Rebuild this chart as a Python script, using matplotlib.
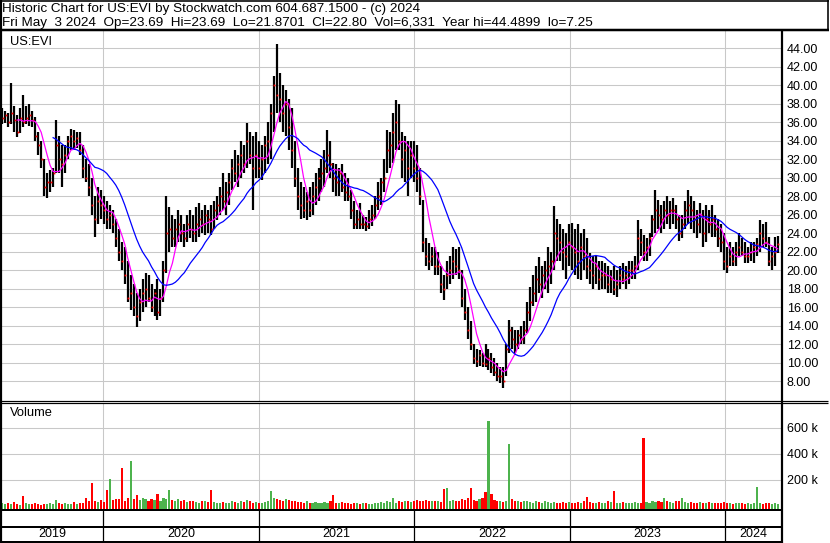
import numpy as np
import pandas as pd
import matplotlib
matplotlib.use("Agg")
import matplotlib.pyplot as plt
import matplotlib.dates as mdates
from matplotlib.lines import Line2D
from matplotlib.ticker import FixedLocator, FuncFormatter

plt.rcParams['font.family'] = ['Liberation Sans', 'DejaVu Sans']

# ---------------- data (weekly bars, US:EVI) ----------------
week_start = "2019-05-10"
week_end = "2024-05-03"

high = [37.5, 37.2, 37.0, 40.3, 37.8, 36.8, 37.5, 39.0, 37.8, 38.0,
        37.2, 36.6, 35.0, 34.0, 32.0, 30.5, 30.8, 31.0, 36.3, 34.5,
        33.5, 33.5, 34.5, 35.3, 35.2, 35.0, 35.0, 33.5, 32.0, 31.5,
        30.0, 28.0, 29.0, 28.7, 28.0, 27.5, 27.0, 26.5, 25.5, 24.5,
        23.0, 22.5, 21.0, 19.5, 18.5, 17.5, 18.0, 19.0, 19.7, 19.5,
        18.5, 18.0, 19.0, 18.0, 21.0, 28.0, 26.8, 26.0, 25.5, 26.5,
        26.0, 25.0, 26.0, 26.5, 26.0, 26.8, 27.3, 26.5, 27.0, 26.5,
        27.0, 27.5, 28.0, 29.0, 30.5, 29.5, 30.5, 32.0, 33.0, 32.5,
        34.0, 33.5, 35.9, 35.0, 34.5, 35.0, 34.0, 33.5, 34.5, 36.0,
        38.0, 41.0, 44.5, 41.3, 40.0, 39.5, 38.5, 37.5, 34.0, 31.0,
        29.5, 29.0, 28.5, 29.0, 29.5, 30.5, 31.0, 32.0, 33.0, 35.2,
        34.0, 31.6, 31.5, 31.0, 31.5, 30.5, 30.0, 28.7, 27.5, 26.5,
        27.3, 26.0, 25.8, 26.5, 27.0, 28.0, 29.5, 30.0, 32.0, 35.2,
        35.0, 37.0, 38.4, 38.0, 35.0, 34.5, 34.0, 34.0, 34.0, 33.5,
        31.0, 27.6, 23.5, 22.9, 22.5, 22.5, 22.0, 20.4, 19.5, 21.0,
        21.5, 22.5, 22.3, 22.5, 20.0, 18.0, 16.0, 14.5, 12.0, 11.5,
        11.4, 11.0, 12.0, 11.5, 11.0, 10.5, 10.0, 9.5, 9.5, 12.0,
        14.6, 13.9, 13.5, 13.5, 14.0, 14.5, 16.5, 18.2, 19.5, 20.4,
        21.4, 20.5, 21.0, 22.5, 22.0, 26.9, 25.5, 25.0, 24.5, 24.0,
        25.0, 25.1, 24.5, 25.0, 24.0, 24.5, 23.5, 21.9, 21.5, 21.5,
        21.0, 21.0, 20.8, 20.5, 20.0, 20.5, 20.0, 20.5, 20.8, 20.5,
        21.0, 21.0, 21.5, 25.4, 24.5, 23.8, 23.5, 24.0, 26.0, 28.7,
        27.6, 27.0, 27.5, 28.0, 27.5, 27.8, 27.0, 26.0, 26.0, 27.5,
        28.7, 28.0, 27.5, 26.5, 27.3, 26.5, 27.0, 26.5, 27.0, 26.0,
        25.5, 25.0, 24.0, 22.5, 23.0, 22.5, 23.0, 24.0, 23.5, 23.0,
        22.5, 23.0, 23.0, 23.5, 25.4, 25.0, 25.2, 23.6, 22.5, 23.6,
        23.69]

low = [35.8, 35.9, 35.5, 35.8, 35.0, 34.4, 34.8, 35.5, 35.8, 35.6,
       35.5, 34.0, 32.5, 31.0, 28.0, 27.8, 28.5, 29.0, 30.5, 30.5,
       29.0, 30.5, 32.0, 33.0, 33.0, 33.2, 32.5, 30.0, 29.5, 28.0,
       26.0, 23.6, 25.0, 25.5, 25.0, 24.4, 24.5, 24.0, 22.5, 21.0,
       20.0, 18.5, 16.5, 15.7, 15.0, 13.9, 14.5, 15.5, 16.0, 16.5,
       15.5, 15.0, 14.6, 15.0, 16.5, 19.7, 22.0, 22.5, 22.5, 23.0,
       23.0, 22.5, 23.0, 23.5, 23.0, 23.0, 23.6, 24.0, 23.8, 24.0,
       23.8, 24.5, 25.4, 26.0, 26.5, 26.0, 27.0, 28.7, 29.5, 29.0,
       30.0, 30.5, 31.0, 31.5, 26.5, 30.0, 30.0, 29.8, 30.5, 31.5,
       32.0, 35.0, 37.0, 36.0, 35.0, 34.5, 33.0, 31.0, 29.0, 26.5,
       25.5, 25.6, 25.4, 25.8, 26.0, 27.0, 27.5, 28.5, 29.0, 30.5,
       30.0, 28.5, 28.0, 28.0, 28.5, 27.5, 27.5, 25.5, 24.5, 24.4,
       24.5, 24.4, 24.2, 24.5, 24.8, 25.5, 26.5, 27.0, 28.5, 30.5,
       31.0, 31.6, 33.0, 33.0, 30.0, 29.5, 28.0, 30.0, 29.5, 28.5,
       27.0, 22.0, 20.5, 20.0, 20.5, 19.5, 19.5, 17.5, 16.8, 18.0,
       18.5, 19.0, 19.5, 19.0, 16.0, 14.6, 12.5, 11.4, 9.8, 9.5,
       9.6, 9.5, 9.5, 9.2, 8.9, 8.5, 8.0, 7.8, 7.25, 8.5,
       11.0, 11.5, 11.0, 11.5, 12.0, 12.0, 13.2, 14.5, 16.1, 16.5,
       17.5, 17.0, 18.0, 17.5, 18.5, 20.0, 21.0, 21.0, 20.0, 19.0,
       20.5, 20.0, 19.5, 19.0, 18.9, 20.0, 19.0, 18.5, 18.0, 18.5,
       17.9, 18.0, 18.0, 17.5, 17.5, 17.3, 17.1, 18.0, 18.5, 18.0,
       18.5, 19.0, 19.0, 20.0, 21.5, 21.0, 21.0, 21.5, 23.6, 24.0,
       24.5, 24.0, 24.5, 25.0, 24.5, 25.0, 24.5, 23.2, 23.5, 24.5,
       25.0, 24.5, 24.0, 23.5, 24.0, 22.5, 23.0, 24.0, 23.6, 23.6,
       22.5, 22.0, 20.0, 19.7, 20.5, 20.5, 20.5, 21.5, 21.5, 20.8,
       20.8, 21.0, 20.8, 21.5, 22.0, 22.5, 22.5, 20.5, 20.0, 20.5,
       21.87]

close = [36.5, 36.8, 36.0, 37.0, 36.2, 35.0, 36.5, 36.0, 36.5, 36.8,
         36.2, 34.5, 33.5, 32.0, 29.0, 29.5, 29.5, 30.5, 33.5, 32.0,
         31.5, 32.5, 34.0, 34.5, 34.0, 34.3, 33.0, 31.0, 30.0, 29.0,
         27.0, 25.5, 27.5, 27.0, 26.5, 25.5, 26.0, 25.0, 23.5, 22.0,
         21.0, 19.5, 17.0, 17.5, 16.0, 15.0, 16.5, 17.5, 18.0, 17.0,
         16.0, 17.5, 15.5, 17.0, 20.0, 24.0, 24.5, 23.5, 24.5, 25.0,
         24.0, 23.5, 25.0, 24.5, 24.0, 25.0, 25.5, 25.0, 26.0, 25.5,
         24.5, 26.5, 27.0, 28.0, 27.5, 28.5, 29.5, 31.0, 30.5, 31.5,
         32.5, 31.5, 34.0, 32.5, 31.0, 32.5, 31.0, 32.0, 33.5, 34.0,
         37.0, 40.0, 39.0, 38.5, 37.0, 38.0, 35.5, 33.0, 30.0, 28.0,
         27.0, 26.5, 27.5, 26.5, 28.0, 29.0, 30.0, 30.5, 31.0, 32.5,
         31.5, 30.0, 29.5, 30.5, 29.0, 28.5, 28.0, 26.5, 25.0, 25.5,
         25.0, 25.0, 24.8, 25.5, 26.0, 27.0, 28.0, 29.5, 30.0, 33.0,
         33.5, 35.0, 36.0, 34.0, 32.0, 33.0, 31.0, 32.5, 31.0, 30.0,
         28.0, 23.0, 21.5, 21.0, 21.5, 20.5, 20.5, 18.5, 18.0, 19.5,
         20.0, 21.0, 20.5, 20.0, 17.0, 15.5, 13.5, 12.0, 10.5, 10.2,
         10.8, 10.0, 9.8, 10.5, 9.5, 9.0, 8.5, 8.5, 8.0, 11.5,
         13.5, 12.5, 12.0, 13.0, 12.5, 13.5, 15.5, 16.5, 17.5, 19.0,
         18.5, 19.5, 20.0, 20.5, 21.0, 24.0, 23.5, 23.0, 22.0, 21.5,
         23.0, 22.5, 22.0, 21.0, 22.5, 21.5, 20.5, 20.0, 19.5, 20.5,
         19.0, 19.5, 19.5, 18.5, 19.0, 18.0, 18.5, 19.5, 19.0, 19.5,
         20.0, 20.0, 20.5, 23.5, 23.0, 22.0, 22.5, 23.5, 25.5, 26.5,
         26.0, 25.5, 26.5, 26.0, 26.5, 26.5, 25.5, 24.0, 25.0, 26.5,
         27.0, 26.5, 25.5, 25.0, 26.0, 24.0, 25.5, 25.0, 25.5, 24.5,
         23.5, 23.0, 21.0, 20.5, 21.5, 21.0, 22.0, 22.5, 22.0, 21.5,
         21.5, 22.0, 22.5, 22.8, 24.0, 23.5, 23.0, 21.0, 21.5, 22.0,
         22.80]

# weekly peak volume, thousands of shares
volume_k = [25, 15, 20, 12, 30, 18, 10, 79, 22, 15,
            12, 20, 15, 10, 18, 14, 25, 12, 46, 20,
            15, 22, 18, 12, 30, 15, 20, 25, 64, 35,
            177, 40, 30, 45, 28, 123, 208, 45, 55, 50,
            292, 40, 60, 346, 50, 85, 45, 60, 50, 40,
            55, 45, 95, 40, 60, 50, 123, 45, 40, 50,
            35, 45, 30, 40, 35, 30, 25, 40, 35, 30,
            123, 30, 25, 20, 30, 25, 20, 35, 30, 25,
            40, 30, 46, 35, 25, 30, 20, 25, 30, 40,
            115, 60, 50, 45, 40, 55, 45, 35, 40, 30,
            30, 25, 35, 20, 25, 30, 20, 25, 30, 25,
            35, 85, 25, 20, 30, 25, 20, 15, 25, 20,
            15, 20, 25, 18, 15, 20, 25, 30, 20, 35,
            30, 64, 25, 35, 30, 40, 35, 30, 40, 45,
            40, 35, 45, 40, 35, 40, 35, 30, 130, 140,
            40, 45, 35, 40, 50, 45, 60, 140, 45, 40,
            50, 60, 110, 648, 95, 45, 40, 35, 30, 40,
            477, 50, 40, 35, 30, 40, 35, 30, 25, 35,
            30, 25, 35, 30, 25, 30, 25, 20, 30, 25,
            30, 25, 20, 30, 25, 35, 70, 30, 25, 20,
            30, 25, 20, 35, 30, 115, 25, 20, 30, 25,
            20, 25, 30, 20, 25, 525, 30, 25, 40, 30,
            35, 30, 60, 35, 30, 25, 40, 35, 65, 30,
            25, 30, 20, 25, 30, 20, 25, 30, 20, 25,
            20, 25, 30, 20, 25, 15, 20, 25, 20, 15,
            20, 15, 25, 148, 20, 15, 20, 25, 15, 20,
            12]

year_labels = ["2019", "2020", "2021", "2022", "2023", "2024"]
price_ticks = list(range(8, 46, 2))
volume_ticks_k = [200, 400, 600]

header1 = "Historic Chart for US:EVI by Stockwatch.com 604.687.1500 - (c) 2024"
header2 = ("Fri May  3 2024  Op=23.69  Hi=23.69  Lo=21.8701  Cl=22.80  "
           "Vol=6,331  Year hi=44.4899  lo=7.25")
symbol = "US:EVI"

# ---------------- figure ----------------
W, H = 830, 543
fig = plt.figure(figsize=(W / 100, H / 100), dpi=100)


def rect(x0, y0, x1, y1):
    return [x0 / W, 1 - y1 / H, (x1 - x0) / W, (y1 - y0) / H]


def fline(xs, ys, lw_px, color='k'):
    fig.add_artist(Line2D([x / W for x in xs], [1 - y / H for y in ys],
                          transform=fig.transFigure, color=color,
                          lw=lw_px * 0.72, solid_capstyle='butt'))


dates = pd.date_range(week_start, week_end, freq="7D")
s_close = pd.Series(close, index=dates)
ma_fast = s_close.rolling(6).mean()
ma_slow = s_close.rolling(18).mean()
up = np.r_[True, np.diff(close) >= 0]
vcol = np.where(up, '#4db34d', '#ff0000')

xmin = pd.Timestamp("2019-05-09")
xmax = pd.Timestamp("2024-05-13")
year_bounds = [pd.Timestamp(f"{y}-01-01") for y in range(2020, 2025)]
grid_c = '#c8c8c8'
FS = 9
HFS = 9.7

# price panel
axp = fig.add_axes(rect(2, 31, 782, 400.7))
axp.set_xlim(xmin, xmax)
axp.set_ylim(5.87, 45.88)
axp.vlines(dates, low, high, color='black', lw=1.6)
axp.plot(dates + pd.Timedelta(days=1), close, 's', color='red', ms=1.3, mew=0)
axp.plot(dates, ma_fast, color='#ff00ff', lw=0.9)
axp.plot(dates, ma_slow, color='#0000ff', lw=0.9)
axp.yaxis.tick_right()
axp.yaxis.set_major_locator(FixedLocator(price_ticks))
axp.yaxis.set_major_formatter(FuncFormatter(lambda v, p: f"{v:.2f}"))
axp.xaxis.set_major_locator(FixedLocator(mdates.date2num(year_bounds)))
axp.tick_params(axis='both', length=0, labelsize=FS, pad=3.4)
axp.tick_params(axis='x', labelbottom=False)
axp.grid(True, color=grid_c, lw=0.75)
axp.set_axisbelow(True)
for s in axp.spines.values():
    s.set_visible(False)
axp.text(7.5 / 780, 1 - 11 / 369.7, symbol, transform=axp.transAxes,
         fontsize=FS + 0.3, va='center', ha='left')

# volume panel
axv = fig.add_axes(rect(2, 402.7, 782, 509.5))
axv.set_xlim(xmin, xmax)
vlo, vhi = -27, 792
axv.set_ylim(vlo, vhi)
axv.bar(dates, np.array(volume_k) - vlo, bottom=vlo, width=5.0,
        color=vcol, linewidth=0)
axv.yaxis.tick_right()
axv.yaxis.set_major_locator(FixedLocator(volume_ticks_k))
axv.yaxis.set_major_formatter(FuncFormatter(lambda v, p: f"{int(v)} k"))
axv.xaxis.set_major_locator(FixedLocator(mdates.date2num(year_bounds)))
axv.tick_params(axis='both', length=0, labelsize=FS, pad=3.4)
axv.tick_params(axis='x', labelbottom=False)
axv.grid(True, color=grid_c, lw=0.75)
axv.set_axisbelow(True)
for s in axv.spines.values():
    s.set_visible(False)
axv.text(7.5 / 780, 1 - 10.5 / 106.8, "Volume", transform=axv.transAxes,
         fontsize=FS + 0.3, va='center', ha='left')

# time rows
axt = fig.add_axes(rect(2, 509.5, 782, 541.5))
axt.set_xlim(xmin, xmax)
axt.set_ylim(0, 1)
axt.axis('off')
axt.vlines(year_bounds, 0, 1, color='black', lw=0.9)
edges = [xmin] + year_bounds + [xmax]
for lab, a, b in zip(year_labels, edges[:-1], edges[1:]):
    axt.text(a + (b - a) / 2, 0.225, lab, ha='center', va='center', fontsize=FS)

# borders
fline([0, 829], [0.8, 0.8], 1.6)
fline([0, 829], [30, 30], 2.5)
fline([828.2, 828.2], [0, 30], 1.6)
fline([1, 1], [0, 543], 2.2)
fline([782, 782], [30, 543], 2.2)
fline([0, 828], [400.7, 400.7], 1.2)
fline([0, 828], [402.7, 402.7], 1.2)
fline([0, 782], [509.5, 509.5], 2.0)
fline([0, 782], [527, 527], 2.0)
fline([0, 782], [541.5, 541.5], 2.0)

fig.text(1.5 / W, 1 - 9.0 / H, header1, fontsize=HFS, va='center', ha='left')
fig.text(1.5 / W, 1 - 23.0 / H, header2, fontsize=HFS, va='center', ha='left')

fig.savefig("out.png", dpi=100)
